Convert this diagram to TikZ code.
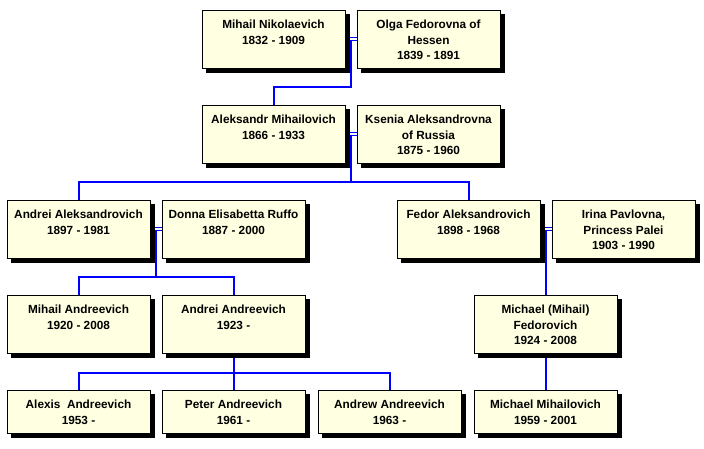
\documentclass[tikz,border=0pt]{standalone}
\usepackage{fontspec}
\setmainfont{Liberation Sans}
\usetikzlibrary{shapes.misc,shadows,backgrounds,calc}
\definecolor{cream}{RGB}{255,255,225}
\definecolor{lineblue}{RGB}{0,0,255}
\tikzset{
  person/.style={chamfered rectangle, chamfered rectangle xsep=2pt, chamfered rectangle ysep=2pt,
    draw=black, line width=1pt, fill=cream, minimum width=143pt, minimum height=58pt, inner sep=0pt,
    general shadow={fill=black, draw=black, line width=1pt, shadow xshift=4pt, shadow yshift=-4pt}},
  short/.style={minimum height=43pt},
  ptext/.style={anchor=north, align=center, font=\bfseries\fontsize{11.8}{15.5}\selectfont, inner sep=0pt},
  link/.style={draw=lineblue, line width=2pt},
  marr/.style={draw=lineblue, line width=1pt},
}
\begin{document}
\begin{tikzpicture}[x=1pt,y=-1pt]
\useasboundingbox (0,0) rectangle (704,448);
% boxes
\node[person] (mn) at (273.5,39) {};
\node[person] (ol) at (428.5,39) {};
\node[person] (al) at (273.5,134) {};
\node[person] (ks) at (428.5,134) {};
\node[person] (an) at (78.5,229) {};
\node[person] (do) at (233.5,229) {};
\node[person] (fe) at (468.5,229) {};
\node[person] (ir) at (623.5,229) {};
\node[person] (ma) at (78.5,324) {};
\node[person] (aa) at (233.5,324) {};
\node[person] (mf) at (545.5,324) {};
\node[person,short] (ax) at (78.5,411.5) {};
\node[person,short] (pe) at (233.5,411.5) {};
\node[person,short] (aw) at (389.5,411.5) {};
\node[person,short] (mm) at (545.5,411.5) {};
% texts
\node[ptext] (mnt) at ($(mn.north)+(0,10.5)$) {Mihail Nikolaevich\\1832 - 1909};
\node[ptext] (olt) at ($(ol.north)+(0,10.5)$) {Olga Fedorovna of\\Hessen\\1839 - 1891};
\node[ptext] (alt) at ($(al.north)+(0,10.5)$) {Aleksandr Mihailovich\\1866 - 1933};
\node[ptext] (kst) at ($(ks.north)+(0,10.5)$) {Ksenia Aleksandrovna\\of Russia\\1875 - 1960};
\node[ptext] (ant) at ($(an.north)+(0,10.5)$) {Andrei Aleksandrovich\\1897 - 1981};
\node[ptext] (dot) at ($(do.north)+(0,10.5)$) {Donna Elisabetta Ruffo\\1887 - 2000};
\node[ptext] (fet) at ($(fe.north)+(0,10.5)$) {Fedor Aleksandrovich\\1898 - 1968};
\node[ptext] (irt) at ($(ir.north)+(0,10.5)$) {Irina Pavlovna,\\Princess Palei\\1903 - 1990};
\node[ptext] (mat) at ($(ma.north)+(0,10.5)$) {Mihail Andreevich\\1920 - 2008};
\node[ptext] (aat) at ($(aa.north)+(0,10.5)$) {Andrei Andreevich\\1923 -};
\node[ptext] (mft) at ($(mf.north)+(0,10.5)$) {Michael (Mihail)\\Fedorovich\\1924 - 2008};
\node[ptext] (axt) at ($(ax.north)+(0,10.5)$) {Alexis\ \ Andreevich\\1953 -};
\node[ptext] (pet) at ($(pe.north)+(0,10.5)$) {Peter Andreevich\\1961 -};
\node[ptext] (awt) at ($(aw.north)+(0,10.5)$) {Andrew Andreevich\\1963 -};
\node[ptext] (mmt) at ($(mm.north)+(0,10.5)$) {Michael Mihailovich\\1959 - 2001};
% connectors
\begin{scope}[on background layer]
  \fill[white] (0,0) rectangle (704,448);
  % couple 1
  \draw[marr] ($(mn.east)+(0,-1.5)$) -- ($(ol.west)+(0,-1.5)$);
  \draw[marr] ($(mn.east)+(0,1.5)$) -- ($(ol.west)+(0,1.5)$);
  \coordinate (j1) at ($(mn.east)!0.5!(ol.west)+(0,1.5)$);
  \draw[link] (j1) -- ++(0,46.5) -| (al.north);
  % couple 2
  \draw[marr] ($(al.east)+(0,-1.5)$) -- ($(ks.west)+(0,-1.5)$);
  \draw[marr] ($(al.east)+(0,1.5)$) -- ($(ks.west)+(0,1.5)$);
  \coordinate (j2) at ($(al.east)!0.5!(ks.west)+(0,1.5)$);
  \draw[link] (j2) -- ++(0,46.5) coordinate (b2);
  \draw[link] (an.north) |- (b2) -| (fe.north);
  % couple 3
  \draw[marr] ($(an.east)+(0,-1.5)$) -- ($(do.west)+(0,-1.5)$);
  \draw[marr] ($(an.east)+(0,1.5)$) -- ($(do.west)+(0,1.5)$);
  \coordinate (j3) at ($(an.east)!0.5!(do.west)+(0,1.5)$);
  \draw[link] (j3) -- ++(0,46.5) coordinate (b3);
  \draw[link] (ma.north) |- (b3) -| (aa.north);
  % couple 4
  \draw[marr] ($(fe.east)+(0,-1.5)$) -- ($(ir.west)+(0,-1.5)$);
  \draw[marr] ($(fe.east)+(0,1.5)$) -- ($(ir.west)+(0,1.5)$);
  \coordinate (j4) at ($(fe.east)!0.5!(ir.west)+(0,1.5)$);
  \draw[link] (j4) -- (j4 |- mf.north);
  % Andrei Andreevich children
  \draw[link] (aa.south) -- ++(0,19) coordinate (b5);
  \draw[link] (ax.north) |- (b5) -| (aw.north);
  \draw[link] (b5) -- (pe.north);
  % Michael
  \draw[link] (mf.south) -- (mm.north);
\end{scope}
\end{tikzpicture}
\end{document}
